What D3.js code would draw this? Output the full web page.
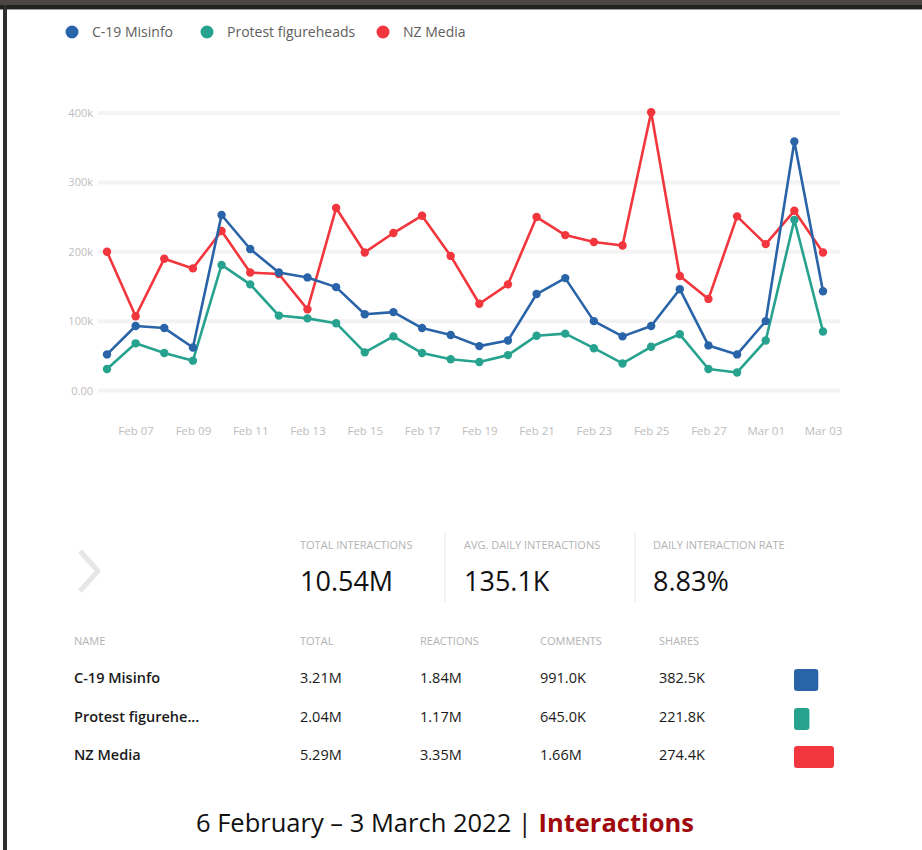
<!DOCTYPE html>
<html>
<head>
<meta charset="utf-8">
<script src="https://cdn.jsdelivr.net/npm/d3@7"></script>
<style>
  html, body { margin: 0; padding: 0; background: #fff; }
  svg { display: block; }
  text { font-family: "Open Sans", "Noto Sans", sans-serif; }
</style>
</head>
<body>
<svg id="chart" width="922" height="850"></svg>
<script>
// ---------- DATA ----------
const seriesNames = ["C-19 Misinfo", "Protest figureheads", "NZ Media"];
const seriesColors = ["#2a64a8", "#26a28f", "#f2363d"];
const dates = [
  "2022-02-06","2022-02-07","2022-02-08","2022-02-09","2022-02-10","2022-02-11","2022-02-12",
  "2022-02-13","2022-02-14","2022-02-15","2022-02-16","2022-02-17","2022-02-18","2022-02-19",
  "2022-02-20","2022-02-21","2022-02-22","2022-02-23","2022-02-24","2022-02-25","2022-02-26",
  "2022-02-27","2022-02-28","2022-03-01","2022-03-02","2022-03-03"
];
const c19Misinfo = [52000, 93000, 90000, 62000, 253000, 204000, 170000, 163000, 149000, 110000, 113000, 90000, 80000, 64000,
  72000, 139000, 162000, 100000, 78000, 93000, 146000, 65000, 52000, 100000, 359000, 143000];
const protestFigureheads = [31000, 68000, 54000, 43000, 181000, 153000, 108000, 104000, 97000, 55000, 78000, 54000, 45000, 41000,
  51000, 79000, 82000, 61000, 39000, 63000, 81000, 31000, 26000, 72000, 246000, 85000];
const nzMedia = [200000, 107000, 190000, 176000, 230000, 170000, 168000, 117000, 263000, 199000, 227000, 252000, 194000, 125000,
  153000, 250000, 224000, 214000, 209000, 401000, 165000, 132000, 251000, 211000, 259000, 199000];
const xTickDates = ["2022-02-07","2022-02-09","2022-02-11","2022-02-13","2022-02-15","2022-02-17","2022-02-19",
  "2022-02-21","2022-02-23","2022-02-25","2022-02-27","2022-03-01","2022-03-03"];
const yTicks = [0, 100000, 200000, 300000, 400000];

const kpiLabels = ["TOTAL INTERACTIONS", "AVG. DAILY INTERACTIONS", "DAILY INTERACTION RATE"];
const kpiValues = ["10.54M", "135.1K", "8.83%"];

const tableHeaders = ["NAME", "TOTAL", "REACTIONS", "COMMENTS", "SHARES"];
const tableNames = ["C-19 Misinfo", "Protest figurehe...", "NZ Media"];
const tableTotals = ["3.21M", "2.04M", "5.29M"];
const tableReactions = ["1.84M", "1.17M", "3.35M"];
const tableComments = ["991.0K", "645.0K", "1.66M"];
const tableShares = ["382.5K", "221.8K", "274.4K"];
const totalValues = [3.21, 2.04, 5.29];

const titleMain = "6 February \u2013 3 March 2022 | ";
const titleAccent = "Interactions";

// ---------- DRAW ----------
const svg = d3.select("#chart");
const parse = d3.timeParse("%Y-%m-%d");

// frame
svg.append("rect").attr("x", 0).attr("y", 0).attr("width", 922).attr("height", 5).attr("fill", "#4b4643");
svg.append("rect").attr("x", 0).attr("y", 5).attr("width", 922).attr("height", 4).attr("fill", "#222");
svg.append("rect").attr("x", 0).attr("y", 9).attr("width", 922).attr("height", 1).attr("fill", "#999");
svg.append("rect").attr("x", 3).attr("y", 5).attr("width", 4).attr("height", 845).attr("fill", "#2e2e2e");

// scales
const x = d3.scaleTime().domain([parse(dates[0]), parse(dates[dates.length - 1])]).range([107, 823]);
const y = d3.scaleLinear().domain([0, 400000]).range([390.5, 113]);

// grid
const grid = svg.append("g");
grid.selectAll("line").data(yTicks).join("line")
  .attr("x1", 98).attr("x2", 840)
  .attr("y1", d => y(d)).attr("y2", d => y(d))
  .attr("stroke", "#f3f3f3").attr("stroke-width", 4);

// y axis
const yAxis = d3.axisLeft(y).tickValues(yTicks).tickSize(0).tickPadding(0)
  .tickFormat(d => d === 0 ? "0.00" : (d / 1000) + "k");
const gy = svg.append("g").attr("transform", "translate(93,0)").call(yAxis);
gy.select(".domain").remove();
gy.selectAll("text").attr("fill", "#bdbdbd").style("font-size", "11px").style("font-family", "'Open Sans', sans-serif");

// x axis
const xAxis = d3.axisBottom(x).tickValues(xTickDates.map(parse)).tickSize(0).tickPadding(0)
  .tickFormat(d3.timeFormat("%b %d"));
const gx = svg.append("g").attr("transform", "translate(0,427)").call(xAxis);
gx.select(".domain").remove();
gx.selectAll("text").attr("fill", "#bdbdbd").style("font-size", "11.5px").style("font-family", "'Open Sans', sans-serif");

// lines
const allSeries = [c19Misinfo, protestFigureheads, nzMedia];
const line = d3.line().x((d, i) => x(parse(dates[i]))).y(d => y(d));
const order = [2, 1, 0];
order.forEach(si => {
  const g = svg.append("g");
  g.append("path").datum(allSeries[si]).attr("d", line)
    .attr("fill", "none").attr("stroke", seriesColors[si]).attr("stroke-width", 2.6)
    .attr("stroke-linejoin", "round");
  g.selectAll("circle").data(allSeries[si]).join("circle")
    .attr("cx", (d, i) => x(parse(dates[i]))).attr("cy", d => y(d))
    .attr("r", 4.2).attr("fill", seriesColors[si]);
});

// legend
const legendX = [72, 207, 383];
const legend = svg.append("g");
seriesNames.forEach((n, i) => {
  legend.append("circle").attr("cx", legendX[i]).attr("cy", 32).attr("r", 6.5).attr("fill", seriesColors[i]);
  legend.append("text").attr("x", legendX[i] + 20).attr("y", 37).text(n)
    .attr("fill", "#605e5c").style("font-size", "14px");
});

// chevron
svg.append("polyline").attr("points", "80,551 98,571 80,591")
  .attr("fill", "none").attr("stroke", "#e6e6e6").attr("stroke-width", 5).attr("stroke-linejoin", "round");

// KPIs
const kpiX = [300, 464, 653];
kpiLabels.forEach((l, i) => {
  svg.append("text").attr("x", kpiX[i]).attr("y", 549).text(l)
    .attr("fill", "#b3b3b3").style("font-size", "11px");
  svg.append("text").attr("x", kpiX[i]).attr("y", 591).text(kpiValues[i])
    .attr("fill", "#111").style("font-size", "27px").style("font-weight", 500);
});
[445, 635].forEach(sx => {
  svg.append("line").attr("x1", sx).attr("x2", sx).attr("y1", 533).attr("y2", 602)
    .attr("stroke", "#efefef").attr("stroke-width", 1.5);
});

// table
const colX = [74, 300, 420, 540, 659];
tableHeaders.forEach((h, i) => {
  svg.append("text").attr("x", colX[i]).attr("y", 645).text(h)
    .attr("fill", "#b3b3b3").style("font-size", "11px");
});
const rowY = [683, 722, 760];
const cols = [tableNames, tableTotals, tableReactions, tableComments, tableShares];
tableNames.forEach((n, r) => {
  cols.forEach((c, ci) => {
    svg.append("text").attr("x", colX[ci]).attr("y", rowY[r]).text(c[r])
      .attr("fill", "#1a1a1a")
      .style("font-size", "14.5px")
      .style("font-weight", ci === 0 ? 600 : 400);
  });
});
const wScale = d3.scaleLinear().domain([0, d3.max(totalValues)]).range([0, 40]);
totalValues.forEach((v, r) => {
  svg.append("rect").attr("x", 794).attr("y", rowY[r] - 14).attr("width", wScale(v)).attr("height", 22)
    .attr("rx", 3).attr("fill", seriesColors[r]);
});

// title
const title = svg.append("text").attr("x", 445).attr("y", 832).attr("text-anchor", "middle")
  .style("font-size", "25.5px").style("font-family", "'Open Sans', sans-serif");
title.append("tspan").text(titleMain).attr("fill", "#111");
title.append("tspan").text(titleAccent).attr("fill", "#a00a0f").style("font-weight", 700);
</script>
</body>
</html>
